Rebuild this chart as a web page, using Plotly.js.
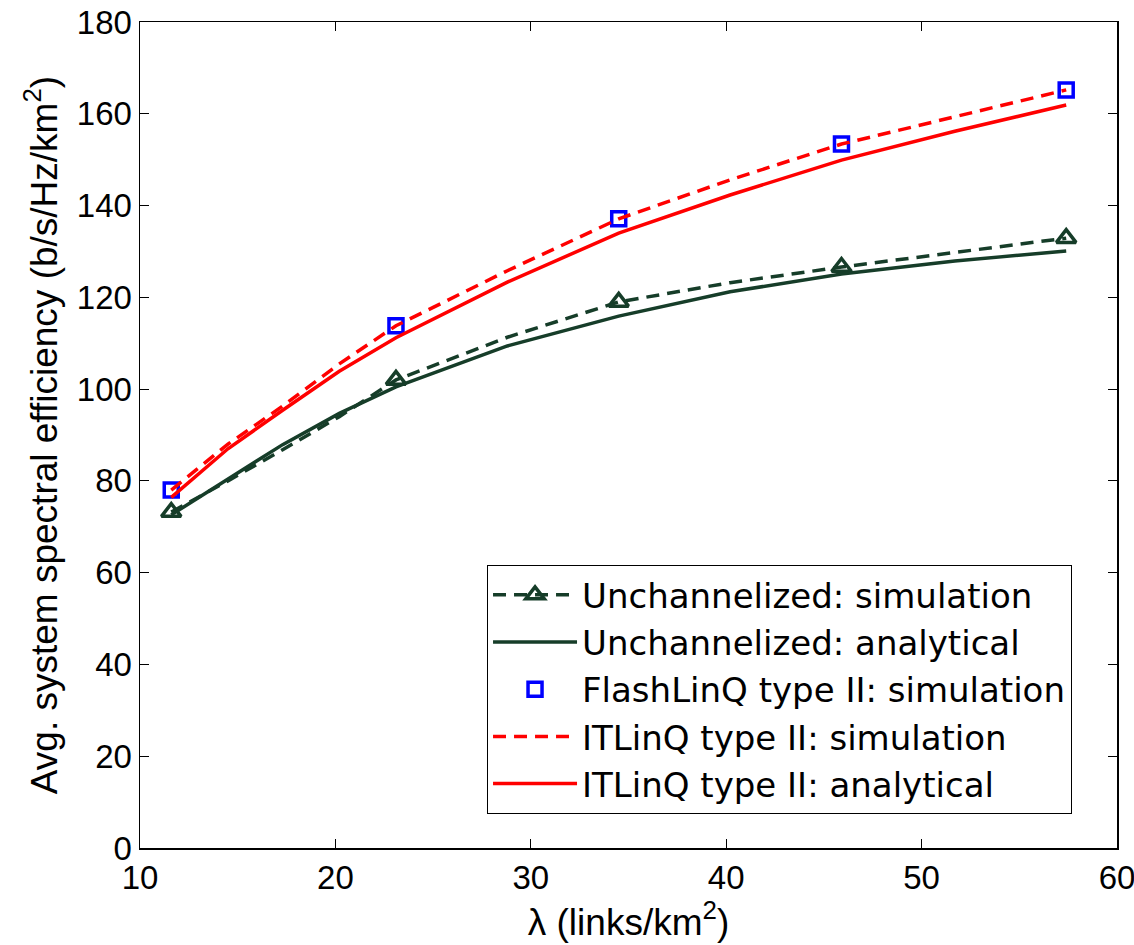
<!DOCTYPE html>
<html>
<head>
<meta charset="utf-8">
<script src="https://cdn.plot.ly/plotly-3.0.1.min.js"></script>
<style>
html,body{margin:0;padding:0;background:#fff;}
#chart{width:1134px;height:945px;}
</style>
</head>
<body>
<div id="chart"></div>
<script>
// Fine grid used by the curves
const lambdaGrid = [11.6, 14.5, 17.3, 20.2, 23.1, 28.8, 34.5, 40.2, 45.9, 51.7, 57.4];
// Marker positions (simulation points)
const lambdaSim = [11.6, 23.1, 34.5, 45.9, 57.4];

const unchSimMarkers = [73.2, 102.0, 119.0, 126.6, 132.9];
const unchSimLine = [73.2, 80.0, 86.8, 94.0, 102.0, 111.3, 119.0, 123.2, 126.6, 129.8, 132.9];
const unchAnalytical = [72.6, 80.4, 87.9, 94.7, 100.5, 109.4, 115.9, 121.2, 125.1, 127.9, 130.1];

const flashSim = [78.0, 113.8, 137.1, 153.4, 165.2];
const itlSimLine = [78.0, 88.0, 96.3, 105.5, 113.8, 125.8, 137.1, 145.6, 153.4, 159.4, 165.2];
const itlAnalytical = [76.4, 87.0, 95.4, 103.9, 111.2, 123.3, 134.0, 142.3, 149.9, 156.2, 161.9];

const green = '#163d29';
const red = '#ff0000';
const blue = '#0000ff';
const dashPat = '13px,8px';

// interleave nulls so the legend trace draws markers without connecting lines
function gapped(arr){ const out=[]; arr.forEach((v,i)=>{ if(i) out.push(null); out.push(v); }); return out; }

const traces = [
  {x: lambdaGrid, y: unchSimLine, mode: 'lines', showlegend: false, hoverinfo: 'skip',
   line: {color: green, width: 3.5, dash: dashPat}},
  {x: gapped(lambdaSim), y: gapped(unchSimMarkers), mode: 'lines+markers', name: 'Unchannelized: simulation',
   connectgaps: false,
   line: {color: green, width: 3.5, dash: dashPat},
   marker: {symbol: 'triangle-up-open', size: 17, color: green, line: {color: green, width: 3.5}}},
  {x: lambdaGrid, y: unchAnalytical, mode: 'lines', name: 'Unchannelized: analytical',
   line: {color: green, width: 3.5}},
  {x: lambdaSim, y: flashSim, mode: 'markers', name: 'FlashLinQ type II: simulation',
   marker: {symbol: 'square-open', size: 14, color: blue, line: {color: blue, width: 3.5}}},
  {x: lambdaGrid, y: itlSimLine, mode: 'lines', name: 'ITLinQ type II: simulation',
   line: {color: red, width: 3.5, dash: dashPat}},
  {x: lambdaGrid, y: itlAnalytical, mode: 'lines', name: 'ITLinQ type II: analytical',
   line: {color: red, width: 3.5}}
];

const fontFam = '"Liberation Sans", Arial, Helvetica, sans-serif';

const layout = {
  width: 1134, height: 945,
  margin: {l: 140, r: 17, t: 22, b: 97},
  paper_bgcolor: '#fff', plot_bgcolor: '#fff',
  font: {family: fontFam, color: '#000', size: 33},
  xaxis: {
    range: [10, 60], tickvals: [10, 20, 30, 40, 50, 60],
    ticks: 'inside', ticklen: 9, tickcolor: '#000', tickwidth: 1,
    showline: true, linecolor: '#000', linewidth: 1.5, mirror: 'ticks',
    showgrid: false, zeroline: false, ticklabeloverflow: 'allow',
    tickfont: {size: 33},
    title: {text: 'λ (links/km<sup>2</sup>)', font: {size: 37}, standoff: 2}
  },
  yaxis: {
    range: [0, 180], tickvals: [0, 20, 40, 60, 80, 100, 120, 140, 160, 180],
    ticks: 'inside', ticklen: 9, tickcolor: '#000', tickwidth: 1,
    showline: true, linecolor: '#000', linewidth: 1.5, mirror: 'ticks',
    showgrid: false, zeroline: false, ticklabeloverflow: 'allow',
    tickfont: {size: 33},
    title: {text: 'Avg. system spectral efficiency (b/s/Hz/km<sup>2</sup>)', font: {size: 37}, standoff: 8}
  },
  legend: {
    x: 0.355, y: 0.3426, xanchor: 'left', yanchor: 'top',
    bgcolor: '#fff', bordercolor: '#000', borderwidth: 1.2,
    font: {size: 34, family: '"DejaVu Sans", "Liberation Sans", sans-serif'},
    itemwidth: 84, tracegroupgap: 0
  },
  showlegend: true
};

Plotly.newPlot('chart', traces, layout, {displayModeBar: false, staticPlot: true});
</script>
</body>
</html>
